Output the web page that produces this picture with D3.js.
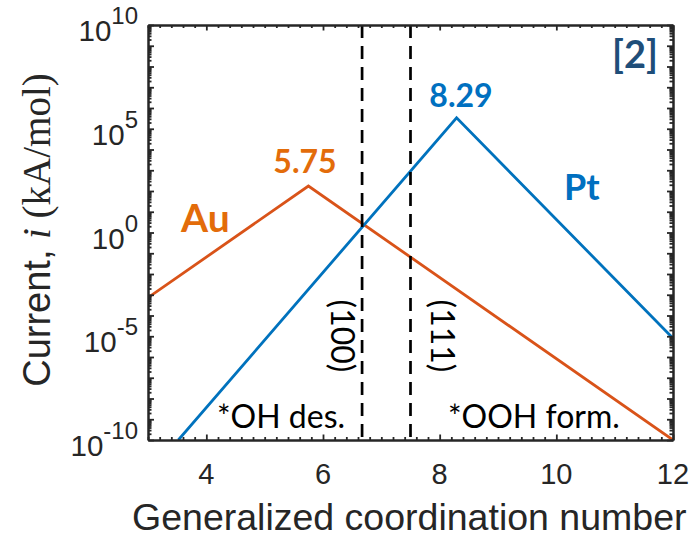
<!DOCTYPE html>
<html>
<head>
<meta charset="utf-8">
<script src="https://cdn.jsdelivr.net/npm/d3@7"></script>
<style>
  body { margin: 0; background: #fff; }
  svg { display: block; }
</style>
</head>
<body>
<svg id="chart" width="692" height="537"></svg>
<script>
// ---- data ----------------------------------------------------------------
const gcnAu = [3, 5.75, 12];
const currentAu = [7.2e-4, 1.74e2, 1e-10];
const gcnPt = [3.52, 8.29, 12];
const currentPt = [1e-10, 3.39e5, 7.9e-6];

const facetLabels = ["(100)", "(111)"];
const facetGCN = [6.67, 7.5];

const xTicks = [4, 6, 8, 10, 12];
const yTickExponents = [-10, -5, 0, 5, 10];

const peakLabels = ["5.75", "8.29"];
const metalNames = ["Au", "Pt"];
const regionLabels = ["*OH des.", "*OOH form."];

// ---- layout --------------------------------------------------------------
const W = 692, H = 537;
const plot = { left: 148, top: 25, right: 673, bottom: 440 };
const axisColor = "#262626";
const auLine = "#D95319", auText = "#E36C0A";
const ptLine = "#0072BD", ptText = "#0070C0";

const svg = d3.select("#chart");

const x = d3.scaleLinear().domain([3, 12]).range([plot.left, plot.right]);
const y = d3.scaleLog().domain([1e-10, 1e10]).range([plot.bottom, plot.top]);

svg.append("defs").append("clipPath").attr("id", "plotClip")
  .append("rect")
  .attr("x", plot.left).attr("y", plot.top)
  .attr("width", plot.right - plot.left).attr("height", plot.bottom - plot.top);

const sansFont = "'Liberation Sans', Arial, sans-serif";
const calFont = "Lato, 'Open Sans', sans-serif";
const serifFont = "'Liberation Serif', 'Times New Roman', serif";

// ---- curves --------------------------------------------------------------
const line = d3.line().x(d => x(d[0])).y(d => y(d[1]));
const gCurves = svg.append("g").attr("clip-path", "url(#plotClip)");

gCurves.append("path")
  .datum(d3.zip(gcnAu, currentAu))
  .attr("d", line)
  .attr("fill", "none").attr("stroke", auLine).attr("stroke-width", 2.8);

gCurves.append("path")
  .datum(d3.zip(gcnPt, currentPt))
  .attr("d", line)
  .attr("fill", "none").attr("stroke", ptLine).attr("stroke-width", 2.8);

// facet markers
gCurves.selectAll("line.facet")
  .data(facetGCN)
  .join("line")
  .attr("class", "facet")
  .attr("x1", d => x(d)).attr("x2", d => x(d))
  .attr("y1", y(1e10)).attr("y2", y(1e-10))
  .attr("stroke", "#000").attr("stroke-width", 2.7)
  .attr("stroke-dasharray", "13,8");

// ---- axes ----------------------------------------------------------------
const minorX = d3.range(3, 12.001, 0.2).filter(v => Math.abs(v / 2 - Math.round(v / 2)) > 1e-6);
const decades = d3.range(-10, 11).map(e => Math.pow(10, e));
const minorY = [];
decades.slice(0, -1).forEach(d => { for (let k = 2; k <= 9; k++) minorY.push(d * k); });

function styleAxis(g) {
  g.selectAll("path.domain").attr("stroke", axisColor).attr("stroke-width", 2);
  g.selectAll(".tick line").attr("stroke", axisColor).attr("stroke-width", 1.8);
  g.selectAll("text").remove();
}

// bottom / top
const bottomMajor = svg.append("g").attr("transform", `translate(0,${plot.bottom})`)
  .call(d3.axisBottom(x).tickValues(xTicks).tickSizeInner(-5.5).tickSizeOuter(0));
styleAxis(bottomMajor);
const bottomMinor = svg.append("g").attr("transform", `translate(0,${plot.bottom})`)
  .call(d3.axisBottom(x).tickValues(minorX).tickSizeInner(-3).tickSizeOuter(0));
styleAxis(bottomMinor);
const topMajor = svg.append("g").attr("transform", `translate(0,${plot.top})`)
  .call(d3.axisTop(x).tickValues(xTicks).tickSizeInner(-5.5).tickSizeOuter(0));
styleAxis(topMajor);
const topMinor = svg.append("g").attr("transform", `translate(0,${plot.top})`)
  .call(d3.axisTop(x).tickValues(minorX).tickSizeInner(-3).tickSizeOuter(0));
styleAxis(topMinor);

// left / right
const leftMajor = svg.append("g").attr("transform", `translate(${plot.left},0)`)
  .call(d3.axisLeft(y).tickValues(decades).tickSizeInner(-6).tickSizeOuter(0));
styleAxis(leftMajor);
const leftMinor = svg.append("g").attr("transform", `translate(${plot.left},0)`)
  .call(d3.axisLeft(y).tickValues(minorY).tickSizeInner(-3.5).tickSizeOuter(0));
styleAxis(leftMinor);
const rightMajor = svg.append("g").attr("transform", `translate(${plot.right},0)`)
  .call(d3.axisRight(y).tickValues(decades).tickSizeInner(-6).tickSizeOuter(0));
styleAxis(rightMajor);
const rightMinor = svg.append("g").attr("transform", `translate(${plot.right},0)`)
  .call(d3.axisRight(y).tickValues(minorY).tickSizeInner(-3.5).tickSizeOuter(0));
styleAxis(rightMinor);

// x tick labels
svg.append("g").selectAll("text")
  .data(xTicks)
  .join("text")
  .attr("x", d => x(d)).attr("y", plot.bottom + 44)
  .attr("text-anchor", "middle")
  .attr("font-family", sansFont).attr("font-size", 29)
  .attr("fill", axisColor)
  .text(d => d);

// y tick labels as powers of ten
const yLab = svg.append("g").selectAll("text")
  .data(yTickExponents)
  .join("text")
  .attr("x", 138).attr("y", d => y(Math.pow(10, d)) + 16)
  .attr("text-anchor", "end")
  .attr("font-family", sansFont).attr("fill", axisColor);
yLab.append("tspan").attr("font-size", 29.5).text("10");
yLab.append("tspan").attr("font-size", 24).attr("dy", -17)
  .text(d => (d < 0 ? "-" : "") + Math.abs(d));

// axis titles
svg.append("text")
  .attr("x", 132).attr("y", 530)
  .attr("font-family", sansFont).attr("font-size", 37.5)
  .attr("fill", axisColor)
  .text("Generalized coordination number");

const yTitle = svg.append("text")
  .attr("transform", "translate(50,230) rotate(-90)")
  .attr("text-anchor", "middle")
  .attr("fill", axisColor);
yTitle.append("tspan").attr("font-family", sansFont).attr("font-size", 38).text("Current, ");
yTitle.append("tspan").attr("font-family", serifFont).attr("font-style", "italic").attr("font-size", 39).text("i");
yTitle.append("tspan").attr("font-family", serifFont).attr("font-size", 39).text(" (kA/mol)");

// ---- annotations ---------------------------------------------------------
svg.append("text")
  .attr("x", 305).attr("y", 173).attr("text-anchor", "middle")
  .attr("font-family", calFont).attr("font-weight", 700).attr("font-size", 32)
  .attr("fill", auText).text(peakLabels[0]);
svg.append("text")
  .attr("x", 461).attr("y", 107).attr("text-anchor", "middle")
  .attr("font-family", calFont).attr("font-weight", 700).attr("font-size", 32)
  .attr("fill", ptText).text(peakLabels[1]);

svg.append("text")
  .attr("x", 181).attr("y", 232)
  .attr("font-family", calFont).attr("font-weight", 700).attr("font-size", 39)
  .attr("fill", auText).text(metalNames[0]);
svg.append("text")
  .attr("x", 564).attr("y", 200)
  .attr("font-family", calFont).attr("font-weight", 700).attr("font-size", 36)
  .attr("fill", ptText).text(metalNames[1]);

svg.append("text")
  .attr("x", 635).attr("y", 68).attr("text-anchor", "middle")
  .attr("font-family", calFont).attr("font-weight", 700).attr("font-size", 38)
  .attr("fill", "#1F4E79").text("[2]");

svg.append("text")
  .attr("x", 217).attr("y", 428)
  .attr("font-family", calFont).attr("font-size", 32)
  .attr("fill", "#000").text(regionLabels[0]);
svg.append("text")
  .attr("x", 448).attr("y", 428)
  .attr("font-family", calFont).attr("font-size", 32)
  .attr("fill", "#000").text(regionLabels[1]);

// facet names, rotated to run downward
svg.append("g").selectAll("text")
  .data(facetLabels)
  .join("text")
  .attr("transform", (d, i) => `translate(${i === 0 ? 331 : 431},336) rotate(90)`)
  .attr("text-anchor", "middle")
  .attr("font-family", calFont).attr("font-size", 32)
  .attr("fill", "#000")
  .text(d => d);
</script>
</body>
</html>
